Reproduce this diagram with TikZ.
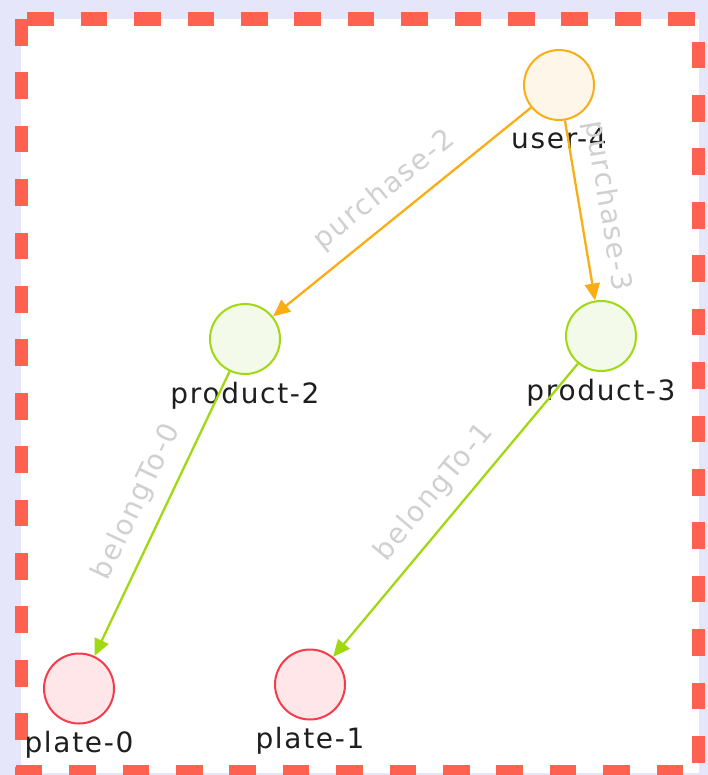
\documentclass[tikz,border=0pt]{standalone}
\usepackage{fontspec}
\newfontfamily\graphfont[LetterSpace=6]{DejaVu Sans}
\usetikzlibrary{arrows.meta}
\definecolor{canvas}{RGB}{230,230,250}
\definecolor{frame}{RGB}{255,97,80}
\definecolor{userline}{RGB}{250,173,20}
\definecolor{userfill}{RGB}{254,246,233}
\definecolor{prodline}{RGB}{160,217,17}
\definecolor{prodfill}{RGB}{243,250,233}
\definecolor{plateline}{RGB}{245,60,75}
\definecolor{platefill}{RGB}{255,231,233}
\definecolor{edgetext}{RGB}{208,208,208}
\definecolor{nodetext}{RGB}{30,30,30}
\tikzset{
  vertex/.style={circle, minimum size=70pt, inner sep=0pt, line width=2pt},
  user/.style={vertex, draw=userline, fill=userfill},
  product/.style={vertex, draw=prodline, fill=prodfill},
  plate/.style={vertex, draw=plateline, fill=platefill},
  name text/.style={font=\graphfont\fontsize{28pt}{30pt}\selectfont, text=nodetext, inner sep=2pt, label distance=5pt},
  rel/.style={line width=2.3pt, -{Triangle[length=17pt,width=15pt]}},
  rel text/.style={font=\graphfont\fontsize{28pt}{30pt}\selectfont, text=edgetext, midway, sloped, above, inner sep=13pt},
  border/.style={frame, line width=13.3pt, dash pattern=on 26.7pt off 26.7pt},
}
\begin{document}
\begin{tikzpicture}[x=1pt, y=-1pt]
    % canvas and dashed frame, one side at a time
    \clip (0,0) rectangle (708,775);
    \fill[canvas] (0,0) rectangle (708,775);
    \fill[white] (21,19) rectangle (699,772.7);
    \draw[border] (27.3,19) -- (699,19);
    \draw[border] (21.5,19) -- (21.5,775);
    \draw[border] (698.3,41.7) -- (698.3,775);
    \draw[border] (15.7,771.7) -- (708,771.7);
    % vertices
    \node[user, label={[name text]below:user-4}] (user4) at (559,85) {};
    \node[product, label={[name text]below:product-2}] (product2) at (245,339) {};
    \node[product, label={[name text]below:product-3}] (product3) at (601,336) {};
    \node[plate, label={[name text]below:plate-0}] (plate0) at (79,688.5) {};
    \node[plate, label={[name text]below:plate-1}] (plate1) at (310,684.5) {};
    % relations
    \draw[rel, userline] (user4) -- node[rel text] {purchase-2} (product2);
    \draw[rel, userline] (user4) -- node[rel text] {purchase-3} (product3);
    \draw[rel, prodline] (product2) -- node[rel text] {belongTo-0} (plate0);
    \draw[rel, prodline] (product3) -- node[rel text] {belongTo-1} (plate1);
\end{tikzpicture}
\end{document}
